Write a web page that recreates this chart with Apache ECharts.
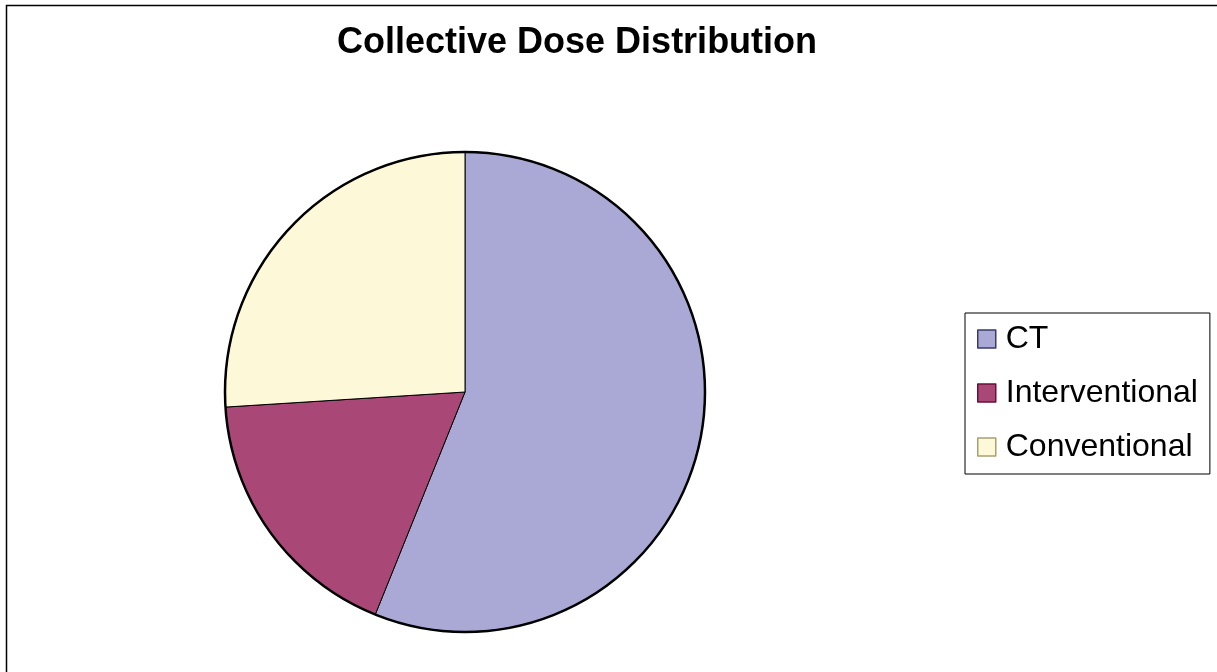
<!DOCTYPE html>
<html>
<head>
<meta charset="utf-8">
<script src="https://cdn.jsdelivr.net/npm/echarts@6/dist/echarts.min.js"></script>
<style>
html,body{margin:0;padding:0;background:#fff;}
#chart{width:1217px;height:672px;}
</style>
</head>
<body>
<div id="chart"></div>
<script>
const titleText = 'Collective Dose Distribution';
const categories = ['CT', 'Interventional', 'Conventional'];
const values = [56.1, 17.9, 26.0];
const colors = ['#AAA8D5', '#A94877', '#FCF8D8'];
const markerBorders = ['#3A3A6A', '#6A1038', '#A8A070'];

const chart = echarts.init(document.getElementById('chart'), null, {renderer: 'canvas'});
const option = {
  backgroundColor: '#ffffff',
  animation: false,
  title: {
    text: titleText,
    left: 337,
    top: 25,
    padding: 0,
    textStyle: {fontFamily: 'Liberation Sans, Arial, sans-serif', fontWeight: 'bold', fontSize: 36, color: '#000'}
  },
  legend: {
    orient: 'vertical',
    left: 965,
    top: 313,
    padding: [10, 12, 11, 12],
    itemGap: 22,
    itemWidth: 18,
    itemHeight: 18,
    icon: 'rect',
    borderColor: '#000',
    borderWidth: 1,
    backgroundColor: '#fff',
    selectedMode: false,
    data: categories.map((c, i) => ({name: c, itemStyle: {borderColor: markerBorders[i], borderWidth: 1.5}})),
    textStyle: {fontFamily: 'Liberation Sans, Arial, sans-serif', fontSize: 32, color: '#000', padding: [0, 0, 0, 5]}
  },
  graphic: [{
    type: 'rect', silent: true, z: -1,
    shape: {x: 6.5, y: 5.5, width: 1300, height: 800},
    style: {fill: 'none', stroke: '#000', lineWidth: 1.5}
  }],
  series: [{
    type: 'pie',
    center: [465, 392],
    radius: 240,
    startAngle: 90,
    clockwise: true,
    label: {show: false},
    labelLine: {show: false},
    silent: true,
    itemStyle: {borderColor: '#000', borderWidth: 1},
    emphasis: {disabled: true},
    data: categories.map((c, i) => ({name: c, value: values[i], itemStyle: {color: colors[i]}}))
  }, {
    type: 'pie',
    center: [465, 392],
    radius: 240,
    label: {show: false},
    labelLine: {show: false},
    silent: true,
    z: 3,
    itemStyle: {color: 'rgba(0,0,0,0)', borderColor: '#000', borderWidth: 2.5},
    emphasis: {disabled: true},
    data: [{name: 'outline', value: 1}]
  }]
};
chart.setOption(option);
</script>
</body>
</html>
